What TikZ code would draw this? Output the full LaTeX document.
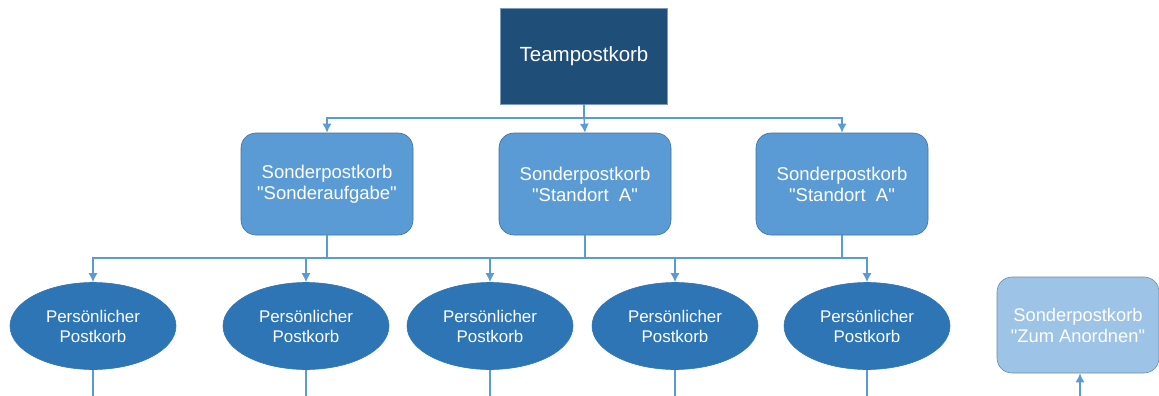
\documentclass[tikz,border=0pt]{standalone}
\usepackage{fontspec}
\setmainfont{Liberation Sans}[Ligatures=TeXOff]
\usetikzlibrary{arrows.meta,shapes.geometric}
\definecolor{navy}{HTML}{1F4E79}
\definecolor{midblue}{HTML}{5B9BD5}
\definecolor{deepblue}{HTML}{2E75B6}
\definecolor{paleblue}{HTML}{9DC3E6}
\definecolor{edgeblue}{HTML}{41719C}
\definecolor{wireblue}{HTML}{5B9BD5}
\tikzset{
  rootbox/.style={rectangle, fill=navy, draw=edgeblue!70, line width=0.6pt,
    minimum width=167pt, minimum height=96pt, inner sep=0pt,
    text=white, font=\fontsize{20.5}{24}\selectfont},
  groupbox/.style={rectangle, rounded corners=15pt, fill=midblue, draw=edgeblue,
    line width=0.6pt, minimum width=172pt, minimum height=102pt, inner sep=0pt,
    text=white, align=center, font=\fontsize{18.5}{21}\selectfont},
  personal/.style={ellipse, fill=deepblue, draw=deepblue, line width=0.6pt,
    minimum width=166pt, minimum height=87pt, inner sep=0pt,
    text=white, align=center, font=\fontsize{16.9}{20}\selectfont},
  sortbox/.style={rectangle, rounded corners=15pt, fill=paleblue, draw=edgeblue!80,
    line width=0.6pt, minimum width=162pt, minimum height=96pt, inner sep=0pt,
    text=white, align=center, font=\fontsize{18.3}{21}\selectfont},
  wire/.style={draw=wireblue, line width=1.3pt},
  arrow/.style={wire, -{Latex[length=9pt,width=9pt]}}
}
\begin{document}
\begin{tikzpicture}[x=1pt,y=-1pt]
\useasboundingbox (0,0) rectangle (1159,396);

% root
\node[rootbox] (root) at (584,56) {Teampostkorb};

% second level
\node[groupbox] (g1) at (327,184) {Sonderpostkorb\\"Sonderaufgabe"};
\node[groupbox] (g2) at (585,184) {Sonderpostkorb\\"Standort~~A"};
\node[groupbox] (g3) at (842,184) {Sonderpostkorb\\"Standort~~A"};

% personal baskets
\node[personal] (p1) at (93,326) {Persönlicher\\Postkorb};
\node[personal] (p2) at (306,326) {Persönlicher\\Postkorb};
\node[personal] (p3) at (490,326) {Persönlicher\\Postkorb};
\node[personal] (p4) at (675,326) {Persönlicher\\Postkorb};
\node[personal] (p5) at (867,326) {Persönlicher\\Postkorb};

% separate basket
\node[sortbox] (sort) at (1078,325) {Sonderpostkorb\\"Zum Anordnen"};

% buses
\coordinate (bus1) at (584,118);
\coordinate (bus2) at (584,258);

\draw[wire] (root) -- (bus1);
\draw[arrow] (bus1) -| (g1.north);
\draw[arrow] (bus1) -- (g2.north);
\draw[arrow] (bus1) -| (g3.north);

\draw[wire] (g1.south) -- (g1.south |- bus2);
\draw[wire] (g2.south) -- (g2.south |- bus2);
\draw[wire] (g3.south) -- (g3.south |- bus2);

\draw[arrow] (bus2) -| (p1.north);
\draw[arrow] (bus2) -| (p2.north);
\draw[arrow] (bus2) -| (p3.north);
\draw[arrow] (bus2) -| (p4.north);
\draw[arrow] (bus2) -| (p5.north);

% lines leaving the lower edge
\foreach \i in {1,...,5}{
  \coordinate (low\i) at (p\i.south |- 0,396);
  \draw[wire] (p\i.south) -- (low\i);
}
\coordinate (lowsort) at (1080,396);
\draw[arrow] (lowsort) -- (lowsort |- sort.south);
\end{tikzpicture}
\end{document}
